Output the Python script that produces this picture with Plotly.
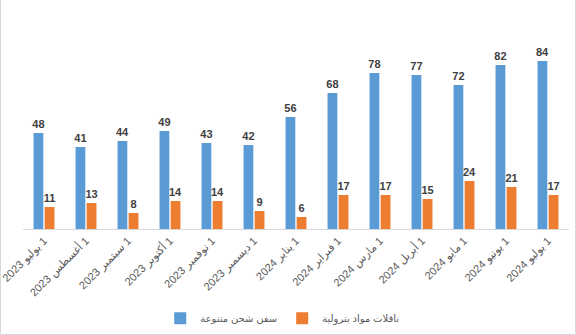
import plotly.graph_objects as go

# Monthly counts of vessels, July 2023 – July 2024
months = [
    "1 يوليو 2023", "1 أغسطس 2023", "1 سبتمبر 2023", "1 أكتوبر 2023",
    "1 نوفمبر 2023", "1 ديسمبر 2023", "1 يناير 2024", "1 فبراير 2024",
    "1 مارس 2024", "1 أبريل 2024", "1 مايو 2024", "1 يونيو 2024",
    "1 يوليو 2024",
]
cargo_ships = [48, 41, 44, 49, 43, 42, 56, 68, 78, 77, 72, 82, 84]
oil_tankers = [11, 13, 8, 14, 14, 9, 6, 17, 17, 15, 24, 21, 17]

series_names = ["سفن شحن متنوعة", "ناقلات مواد بترولية"]
colors = ["#5B9BD5", "#ED7D31"]

# Right-to-left embedding so the date labels read in Arabic order
rtl = lambda s: "\u202B" + s + "\u202C"
cats = [rtl(m) for m in months]

W, H = 576, 335
L, R, T, B = 23, 7, 29, 106

fig = go.Figure()
for name, vals, col in zip(series_names, [cargo_ships, oil_tankers], colors):
    fig.add_trace(go.Bar(
        x=cats, y=vals, name=name,
        marker=dict(color=col, line=dict(width=0)),
        text=[str(v) for v in vals],
        textposition="outside",
        textfont=dict(family="Arial, DejaVu Sans, sans-serif", size=11,
                      color="#404040", weight="bold"),
        constraintext="none",
        cliponaxis=False,
    ))

fig.update_layout(
    width=W, height=H,
    margin=dict(l=L, r=R, t=T, b=B, pad=0, autoexpand=False),
    paper_bgcolor="white", plot_bgcolor="white",
    barmode="group", bargap=0.47, bargroupgap=0.12,
    font=dict(family="Arial, DejaVu Sans, sans-serif", color="#595959"),
    showlegend=True,
    legend=dict(
        orientation="h", xref="container", yref="container",
        x=0.49, xanchor="center", y=0.05, yanchor="middle",
        font=dict(size=10, color="#595959"),
        itemwidth=30, tracegroupgap=0,
    ),
    xaxis=dict(
        tickangle=-45, tickfont=dict(size=11, color="#595959"),
        showline=True, linecolor="#d9d9d9", linewidth=1,
        ticks="", showgrid=False, automargin=False,
    ),
    yaxis=dict(
        range=[0, 100], visible=False, showgrid=False, zeroline=False,
        automargin=False,
    ),
    shapes=[dict(
        type="rect", xref="paper", yref="paper",
        x0=-(L - 0.5) / (W - L - R), x1=(W - L - 0.5) / (W - L - R),
        y0=-(B - 0.5) / (H - T - B), y1=(H - T - 0.5) / (H - T - B),
        line=dict(color="#d9d9d9", width=1), fillcolor="rgba(0,0,0,0)",
        layer="below",
    )],
)

fig.write_html("out.html")
